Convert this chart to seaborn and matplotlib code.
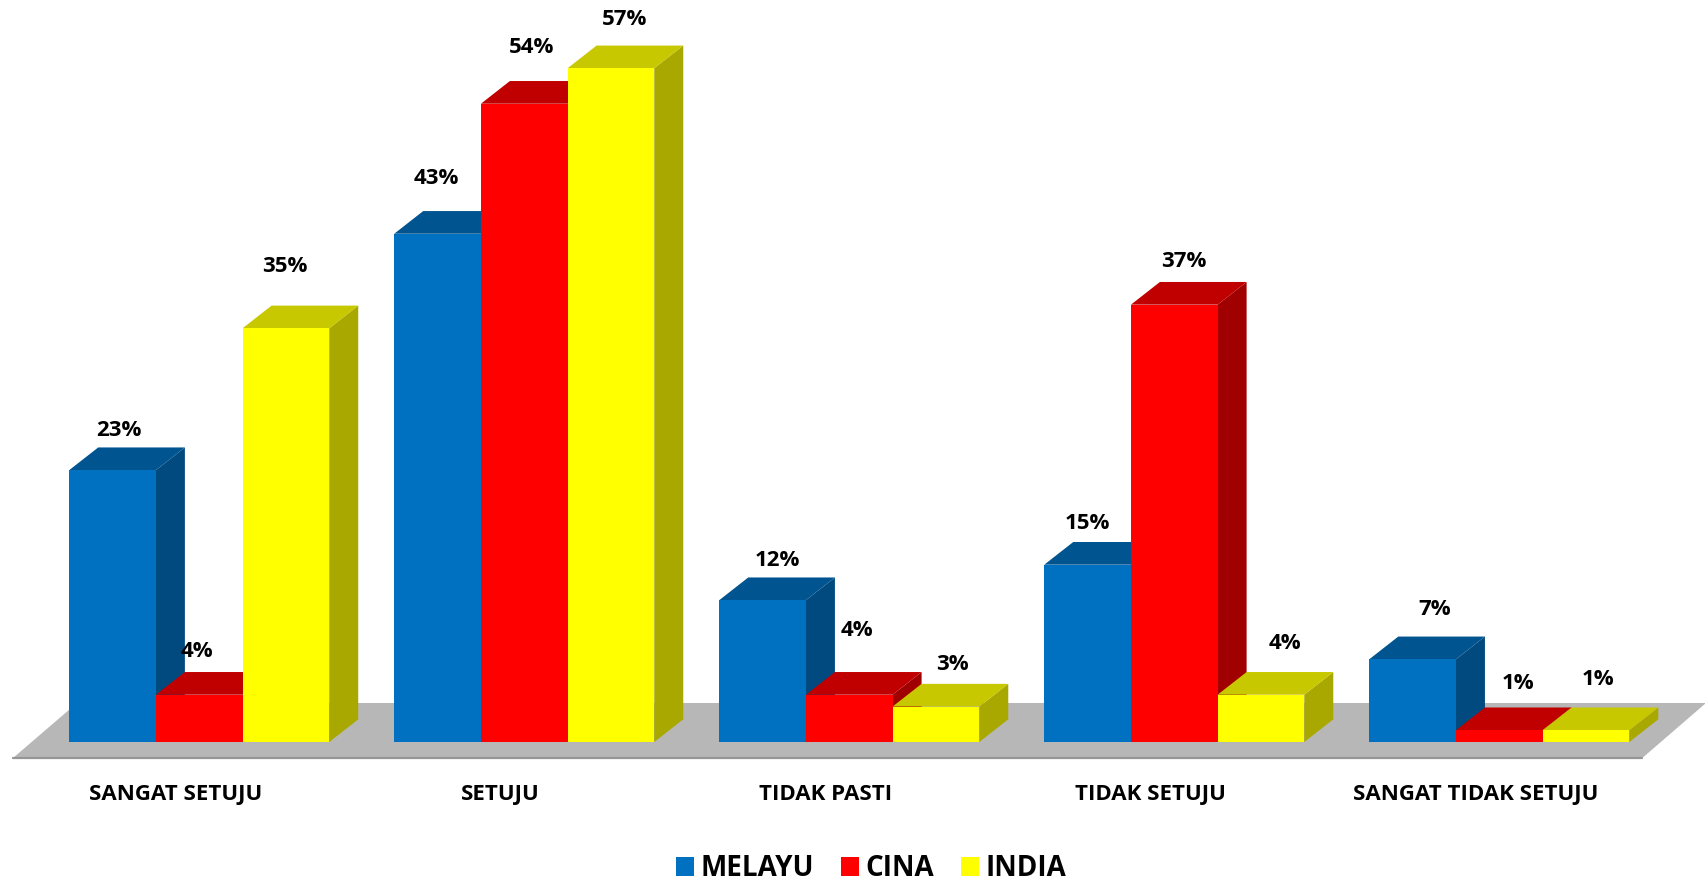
import matplotlib
matplotlib.use("Agg")
import matplotlib.pyplot as plt
import pandas as pd
import seaborn as sns
from matplotlib.patches import Polygon
from matplotlib.transforms import ScaledTranslation

# data
categories = ["SANGAT SETUJU", "SETUJU", "TIDAK PASTI", "TIDAK SETUJU", "SANGAT TIDAK SETUJU"]
groups = ["MELAYU", "CINA", "INDIA"]
melayu = [23, 43, 12, 15, 7]
cina = [4, 54, 4, 37, 1]
india = [35, 57, 3, 4, 1]

# colours per group: front, top, side
front_cols = ["#0070C0", "#FF0000", "#FFFF00"]
top_cols = ["#005490", "#C00000", "#C8C800"]
side_cols = ["#004A80", "#A00000", "#A8A800"]

# hand placed label offsets from the top of each bar, pixels
label_offsets = [
    [(6, 40), (-2, 43), (-1, 62)],
    [(-1, 55), (7, 56), (14, 49)],
    [(15, 40), (8, 64), (17, 42)],
    [(0, 41), (10, 43), (24, 51)],
    [(22, 50), (19, 47), (12, 51)],
]

df = pd.DataFrame({"kategori": categories, "MELAYU": melayu, "CINA": cina, "INDIA": india})
df = df.melt(id_vars="kategori", var_name="kaum", value_name="nilai")

sns.set_theme(style="white")
plt.rcParams["font.family"] = ["Open Sans", "DejaVu Sans"]

fig = plt.figure(figsize=(17.06, 8.81), dpi=100)
ax = fig.add_axes([0, 139 / 881, 1, 742 / 881])

sns.barplot(data=df, x="kategori", y="nilai", hue="kaum", order=categories, hue_order=groups,
            palette=dict(zip(groups, front_cols)), saturation=1, width=0.8, gap=0,
            linewidth=0, ax=ax)

ax.set_xlim(-0.613, 4.636)
ax.set_ylim(0, 742 / 11.82)

# depth of the fake 3d, in data units
depth_x = 0.0892
depth_y = 1.92

# floor
floor_front = -1.354
floor_back = 3.3
ax.add_patch(Polygon([(-0.573, floor_front), (4.44, floor_front), (4.636, floor_back), (-0.376, floor_back)],
                     closed=True, facecolor="#B7B7B7", edgecolor="none", zorder=1, clip_on=False))
ax.plot([-0.573, 4.44], [floor_front, floor_front], color="#969696", lw=1.6, zorder=1.1, clip_on=False)

# side and top faces, later series sit over earlier ones
for j, container in enumerate(ax.containers):
    for i, bar in enumerate(container):
        x0 = bar.get_x()
        x1 = x0 + bar.get_width()
        h = bar.get_height()
        bar.set_zorder(3 + j)
        ax.add_patch(Polygon([(x1, 0), (x1 + depth_x, depth_y), (x1 + depth_x, h + depth_y), (x1, h)],
                             closed=True, facecolor=side_cols[j], edgecolor="none", zorder=2.5 + j, clip_on=False))
        ax.add_patch(Polygon([(x0, h), (x0 + depth_x, h + depth_y), (x1 + depth_x, h + depth_y), (x1, h)],
                             closed=True, facecolor=top_cols[j], edgecolor="none", zorder=2.5 + j, clip_on=False))
        ax.annotate(f"{h:.0f}%", (x0 + bar.get_width() / 2, h), xytext=label_offsets[i][j],
                    textcoords="offset pixels", ha="center", va="center",
                    fontsize=16, fontweight="bold", color="black", zorder=10, annotation_clip=False)

# axis
sns.despine(ax=ax, left=True, bottom=True)
ax.set_xlabel("")
ax.set_ylabel("")
ax.set_yticks([])
ax.tick_params(axis="x", length=0, pad=30, labelsize=16)
shift = ScaledTranslation(-24 / 100, 0, fig.dpi_scale_trans)
for lab in ax.get_xticklabels():
    lab.set_fontweight("bold")
    lab.set_color("black")
    lab.set_transform(lab.get_transform() + shift)

# legend
sns.move_legend(ax, "lower center", bbox_to_anchor=(0.5106, -139 / 742 - 0.003), ncol=3, frameon=False, title=None,
                fontsize=20, handlelength=0.648, handleheight=0.648, handletextpad=0.25, columnspacing=0.95,
                borderpad=0, borderaxespad=0)
for t in ax.get_legend().get_texts():
    t.set_fontweight("bold")
    t.set_color("black")

plt.savefig("out.png", dpi=100)
